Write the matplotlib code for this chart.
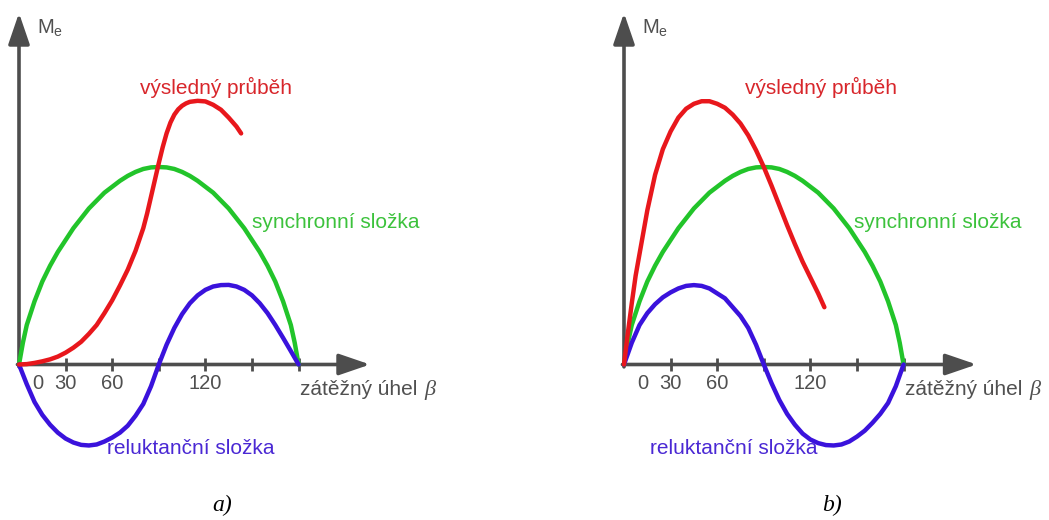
import matplotlib.pyplot as plt

# zatezny uhel beta [deg] a moment (pomerne k maximu synchronni slozky)
beta_syn = [0, 2.5, 5, 10, 15, 20, 25, 30, 35, 40, 45, 50, 55, 60, 65, 70, 75, 80, 85, 90,
            95, 100, 105, 110, 115, 120, 125, 130, 135, 140, 145, 150, 155, 160, 165, 170, 175, 177.5, 180]
syn = [0, 0.11, 0.2, 0.32, 0.42, 0.5, 0.57, 0.63, 0.69, 0.74, 0.79, 0.83, 0.87, 0.9, 0.93, 0.955, 0.975, 0.99, 0.998, 1.0,
       0.998, 0.99, 0.975, 0.955, 0.93, 0.9, 0.87, 0.83, 0.79, 0.74, 0.69, 0.63, 0.57, 0.5, 0.42, 0.32, 0.2, 0.11, 0]

beta_rel = [0, 5, 10, 15, 20, 25, 30, 35, 40, 45, 50, 55, 60, 65, 70, 75, 80, 85, 90,
            95, 100, 105, 110, 115, 120, 125, 130, 135, 140, 145, 150, 155, 160, 165, 170, 175, 180]
rel_a = [0, -0.1, -0.19, -0.255, -0.305, -0.345, -0.375, -0.395, -0.407, -0.41, -0.405, -0.39, -0.37, -0.345, -0.31,
         -0.26, -0.2, -0.11, 0, 0.1, 0.185, 0.255, 0.31, 0.35, 0.378, 0.395, 0.402, 0.403, 0.395, 0.378, 0.35,
         0.31, 0.26, 0.2, 0.135, 0.068, 0]
rel_b = [0, 0.11, 0.2, 0.26, 0.305, 0.34, 0.365, 0.385, 0.398, 0.402, 0.398, 0.385, 0.36, 0.335, 0.29, 0.245,
         0.185, 0.1, 0, -0.095, -0.18, -0.25, -0.305, -0.35, -0.38, -0.398, -0.408, -0.41, -0.405, -0.39, -0.365,
         -0.335, -0.295, -0.25, -0.195, -0.11, 0]

beta_res_a = [0, 5, 10, 15, 20, 25, 30, 35, 40, 45, 50, 55, 60, 65, 70, 75, 80, 82.5, 85, 87.5, 90, 92.5, 95, 97.5,
              100, 102.5, 105, 107.5, 110, 115, 120, 125, 130, 135, 140, 143]
res_a = [0, 0.002, 0.008, 0.016, 0.026, 0.04, 0.06, 0.085, 0.115, 0.155, 0.2, 0.26, 0.325, 0.4, 0.48, 0.575,
         0.69, 0.765, 0.85, 0.935, 1.02, 1.1, 1.17, 1.225, 1.265, 1.292, 1.31, 1.322, 1.33, 1.335, 1.332, 1.315,
         1.29, 1.25, 1.205, 1.17]

beta_res_b = [0, 2.5, 5, 7.5, 10, 12.5, 15, 17.5, 20, 25, 30, 35, 40, 45, 50, 55, 60, 65, 70, 75, 80, 85, 90,
              95, 100, 105, 110, 115, 120, 125, 129]
res_b = [0, 0.16, 0.31, 0.45, 0.56, 0.67, 0.78, 0.87, 0.96, 1.09, 1.18, 1.25, 1.295, 1.32, 1.333, 1.333, 1.32,
         1.3, 1.265, 1.22, 1.16, 1.085, 1.0, 0.905, 0.805, 0.705, 0.61, 0.52, 0.44, 0.36, 0.29]

ticks = [30, 60, 90, 120, 150, 180]
tick_labels = [(12, '0'), (30, '30'), (60, '60'), (120, '120')]

plt.rcParams['font.family'] = ['Liberation Sans', 'DejaVu Sans']
plt.rcParams['mathtext.default'] = 'regular'

W, H = 1049, 520
SX, SY = 1.5533, 197.5      # px na stupen, px na jednotku momentu
OY = 364.5                  # poloha osy x v px
B = 475

RED = '#e8171c'
GREEN = '#22c42a'
BLUE = '#3a12dc'
GRAY = '#4d4d4d'
FS = 15

fig = plt.figure(figsize=(W / 100, H / 100), dpi=100)


def panel(left, right, ox):
    ax = fig.add_axes([left / W, 1 - B / H, (right - left) / W, B / H])
    ax.set_xlim((left - ox) / SX, (right - ox) / SX)
    ax.set_ylim((OY - B) / SY, OY / SY)
    ax.axis('off')
    return ax


def osy(ax, x_tip):
    arrow = dict(arrowstyle='-|>,head_length=1.9,head_width=0.65', lw=2.6,
                 color=GRAY, shrinkA=0, shrinkB=0)
    ax.annotate('', xy=(0, 1.78), xytext=(0, -0.012), arrowprops=arrow)
    ax.annotate('', xy=(x_tip, 0), xytext=(-1, 0), arrowprops=arrow)
    ax.vlines(ticks, -0.035, 0.035, color=GRAY, lw=2)
    for b, s in tick_labels:
        ax.text(b, -0.095, s, ha='center', va='center', fontsize=14.5, color='#505050')
    ax.text(11.5, 1.70, r'M$_e$', ha='left', va='center', fontsize=14.5, color='#505050')
    ax.text(181, -0.128, 'zátěžný úhel', ha='left', va='center', fontsize=FS, color='#505050')
    ax.text(261, -0.128, 'β', ha='left', va='center', fontsize=16, color='#505050',
            family='Liberation Serif', style='italic')


kw = dict(lw=3.2, solid_capstyle='round', solid_joinstyle='round', zorder=5)

# a) reluktancni slozka zaporna pro beta < 90
ax1 = panel(0, 470, 19)
osy(ax1, 226)
ax1.plot(beta_syn, syn, color=GREEN, **kw)
ax1.plot(beta_rel, rel_a, color=BLUE, **kw)
ax1.plot(beta_res_a, res_a, color=RED, **kw)
ax1.text(126.8, 1.405, 'výsledný průběh', ha='center', va='center', fontsize=FS, color='#d8262b')
ax1.text(204, 0.72, 'synchronní složka', ha='center', va='center', fontsize=FS, color='#3cc23c')
ax1.text(110.7, -0.423, 'reluktanční složka', ha='center', va='center', fontsize=FS, color='#4a28d4')

# b) reluktancni slozka kladna pro beta < 90
ax2 = panel(560, 1049, 624)
osy(ax2, 227)
ax2.plot(beta_syn, syn, color=GREEN, **kw)
ax2.plot(beta_rel, rel_b, color=BLUE, **kw)
ax2.plot(beta_res_b, res_b, color=RED, **kw)
ax2.text(126.8, 1.405, 'výsledný průběh', ha='center', va='center', fontsize=FS, color='#d8262b')
ax2.text(202, 0.72, 'synchronní složka', ha='center', va='center', fontsize=FS, color='#3cc23c')
ax2.text(70.5, -0.423, 'reluktanční složka', ha='center', va='center', fontsize=FS, color='#4a28d4')

fig.text(222 / W, 1 - 505 / H, 'a)', ha='center', va='center', fontsize=17,
         family='Liberation Serif', style='italic')
fig.text(832 / W, 1 - 505 / H, 'b)', ha='center', va='center', fontsize=17,
         family='Liberation Serif', style='italic')

fig.savefig('out.png', dpi=100)
